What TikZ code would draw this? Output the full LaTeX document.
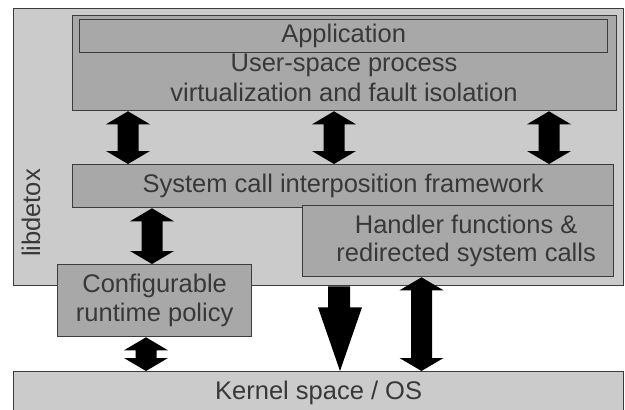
\documentclass[tikz,border=0pt]{standalone}
\usepackage{fontspec}
\setmainfont{Liberation Sans}
\usetikzlibrary{calc}
\definecolor{lightbox}{HTML}{CBCBCB}
\definecolor{darkbox}{HTML}{A8A8A8}
\definecolor{edgecol}{HTML}{3C3C3C}
\definecolor{txtcol}{HTML}{383838}
\tikzset{
  box/.style={draw=edgecol, line width=1.3pt, anchor=north west, inner sep=0pt,
    text=txtcol, align=center, font=\fontsize{25.5}{28.5}\selectfont},
  lbox/.style={box, fill=lightbox},
  dbox/.style={box, fill=darkbox},
  lbl/.style={text=txtcol, align=center, inner sep=0pt, font=\fontsize{25.5}{29.5}\selectfont},
  arrowfill/.style={fill=black},
}
% double block arrow: #1 x (pt), #2 upper node anchor, #3 lower node anchor
\newcommand\twoway[3]{%
  \path[arrowfill] let \p1=(#2), \p2=(#3) in
    ({#1pt},\y1) -- ({#1pt+22pt},{\y1-13pt}) -- ({#1pt+10.5pt},{\y1-13pt})
    -- ({#1pt+10.5pt},{\y2+13pt}) -- ({#1pt+22pt},{\y2+13pt}) -- ({#1pt},\y2)
    -- ({#1pt-22pt},{\y2+13pt}) -- ({#1pt-10.5pt},{\y2+13pt})
    -- ({#1pt-10.5pt},{\y1-13pt}) -- ({#1pt-22pt},{\y1-13pt}) -- cycle;}
\begin{document}
\begin{tikzpicture}[x=1pt,y=-1pt]
\useasboundingbox (0,0) rectangle (625,410);
\fill[white] (0,0) rectangle (625,410);
% libdetox container
\node[lbox, minimum width=610pt, minimum height=277pt] (lib) at (13,8) {};
\node[lbl, rotate=90] (libl) at (31,213) {libdetox};
% top box
\node[dbox, minimum width=544pt, minimum height=95pt] (top) at (72,15) {};
\node[dbox, minimum width=528pt, minimum height=33pt] (app) at (79,19) {Application};
\node[lbl] (usp) at (344,78) {User-space process\\virtualization and fault isolation};
% system call framework
\node[dbox, minimum width=541pt, minimum height=43pt] (sys) at (72,164) {System call interposition framework};
% handler
\node[dbox, minimum width=311pt, minimum height=71pt] (hand) at (302,205) {\hspace*{16pt}Handler functions \&\\\hspace*{16pt}redirected system calls};
% config
\node[dbox, minimum width=194pt, minimum height=72pt] (conf) at (57,264) {Configurable\\runtime policy};
% kernel
\node[lbox, minimum width=610pt, minimum height=42pt] (kern) at (13,371) {Kernel space / OS};
% arrows top -> sys
\twoway{128}{top.south}{sys.north}
\twoway{334}{top.south}{sys.north}
\twoway{549}{top.south}{sys.north}
% sys -> config
\twoway{152}{sys.south}{conf.north}
% config -> kernel
\twoway{146}{conf.south}{kern.north}
% handler -> kernel
\twoway{421.5}{hand.south}{kern.north}
% single down arrow lib -> kernel
\path[arrowfill] let \p1=(lib.south), \p2=(kern.north) in
  (328pt,\y1) -- (350pt,\y1) -- (350pt,{\y1-21pt}) -- (362pt,{\y1-21pt})
  -- (340pt,\y2) -- (318pt,{\y1-21pt}) -- (328pt,{\y1-21pt}) -- cycle;
\end{tikzpicture}
\end{document}
